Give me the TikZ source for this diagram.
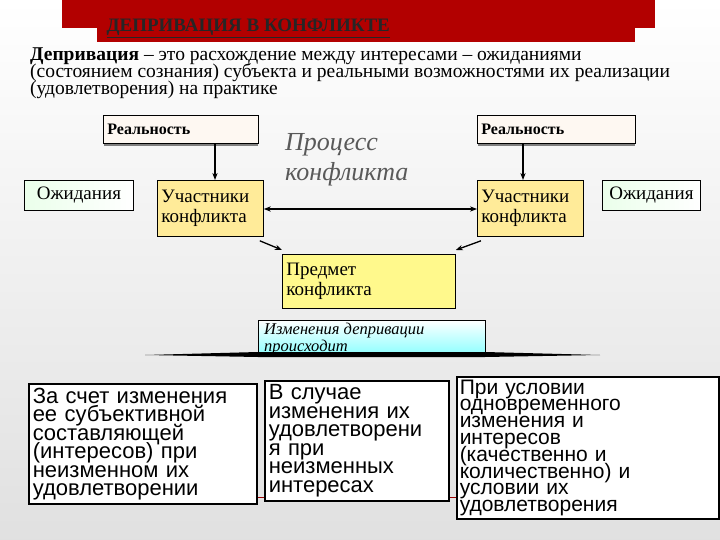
\documentclass[tikz,border=0pt]{standalone}
\usepackage{fontspec}
\setmainfont{Liberation Serif}
\newfontfamily\sansf{Liberation Sans}
\usetikzlibrary{arrows.meta}
\newcommand\tightls{\lineskip=0pt\lineskiplimit=-30pt}
\begin{document}
\begin{tikzpicture}[x=1pt,y=-1pt,
  box/.style={draw=black,line width=0.8pt,inner sep=4pt,align=left,anchor=north west,font=\fontsize{19}{20}\selectfont\tightls},
  bbox/.style={draw=black,line width=1.5pt,fill=white,align=left,anchor=north west,inner sep=4pt,font=\sansf\fontsize{22}{18.5}\selectfont\tightls},
  arr/.style={-{Stealth[length=7pt]},line width=1.3pt}]
\shade[top color=white,bottom color=black!12] (0,0) rectangle (720,540);
\useasboundingbox (0,0) rectangle (720,540);
\fill[red!70!black] (62,0) rectangle (655,28);
\fill[red!70!black] (97,28) rectangle (635,42);
\node[anchor=west,font=\bfseries\fontsize{19}{19}\selectfont,text=black!85] (title) at (103,28) {\underline{ДЕПРИВАЦИЯ В КОНФЛИКТЕ}};
\node[anchor=north west,align=left,inner sep=0pt,font=\fontsize{19.5}{17}\selectfont\tightls] (def) at (30,48)
 {\textbf{Депривация} – это расхождение между интересами – ожиданиями\\(состоянием сознания) субъекта и реальными возможностями их реализации\\(удовлетворения) на практике};
\node[box,fill=black!10!orange!5,text width=147pt,minimum height=28pt,font=\bfseries\fontsize{16}{16}\selectfont] (r1) at (103,115) {Реальность};
\node[box,fill=black!10!orange!5,text width=150pt,minimum height=28pt,font=\bfseries\fontsize{16}{16}\selectfont] (r2) at (477,115) {Реальность};
\draw[black!50,line width=2pt] (104,145)--(258,145) (478,145)--(635,145);
\node[box,align=center,left color=green!8,right color=white,text width=101pt,minimum height=30pt] (o1) at (24,180) {Ожидания};
\node[box,align=center,left color=green!8,right color=white,text width=90pt,minimum height=30pt] (o2) at (602,180) {Ожидания};
\node[box,fill=orange!40!yellow!40,text width=98pt,minimum height=56pt] (u1) at (157,180) {Участники\\конфликта};
\node[box,fill=orange!40!yellow!40,text width=98pt,minimum height=56pt] (u2) at (477,180) {Участники\\конфликта};
\draw[arr] (r1.south -| 215,0) -- (u1.north -| 215,0);
\draw[arr] (r2.south -| 523,0) -- (u2.north -| 523,0);
\draw[{Stealth[length=7pt]}-{Stealth[length=7pt]},line width=1.3pt] (u1.east |- 0,209) -- (u2.west |- 0,209);
\node[anchor=north west,align=left,inner sep=0pt,text=black!65,font=\itshape\fontsize{26}{30}\selectfont] (proc) at (285,133) {Процесс\\конфликта};
\node[box,fill=yellow!45,text width=165pt,minimum height=54pt] (p) at (282,254) {Предмет\\конфликта};
\draw[arr] (u1.south east) ++(-4,4) -- ([yshift=4pt]p.north west);
\draw[arr] (u2.south west) ++(4,4) -- ([yshift=4pt]p.north east);
\shade[top color=white,bottom color=cyan!45,draw=black,line width=0.6pt] (258,320) rectangle (485,355);
\fill[black] (145,355) -- (258,352) -- (485,352) -- (600,355) -- (485,357) -- (258,357) -- cycle;
\node[anchor=north west,align=left,inner sep=0pt,font=\itshape\fontsize{16.5}{17}\selectfont\tightls] (izm) at (264,323) {Изменения депривации\\происходит};
\draw[red!60!black,line width=1pt] (256,497) -- (264,497) (448,497) -- (456,497);
\node[bbox,text width=220pt,minimum height=119pt] (b1) at (28,383) {За счет изменения\\ее субъективной\\составляющей\\(интересов) при\\неизменном их\\удовлетворении};
\node[bbox,text width=176pt,minimum height=120pt] (b2) at (264,380) {В случае\\изменения их\\удовлетворени\\я при\\неизменных\\интересах};
\node[bbox,text width=256pt,minimum height=142pt,font=\sansf\fontsize{21}{16.8}\selectfont\tightls,inner sep=3pt] (b3) at (456,376) {При условии\\одновременного\\изменения и\\интересов\\(качественно и\\количественно) и\\условии их\\удовлетворения};
\end{tikzpicture}
\end{document}
